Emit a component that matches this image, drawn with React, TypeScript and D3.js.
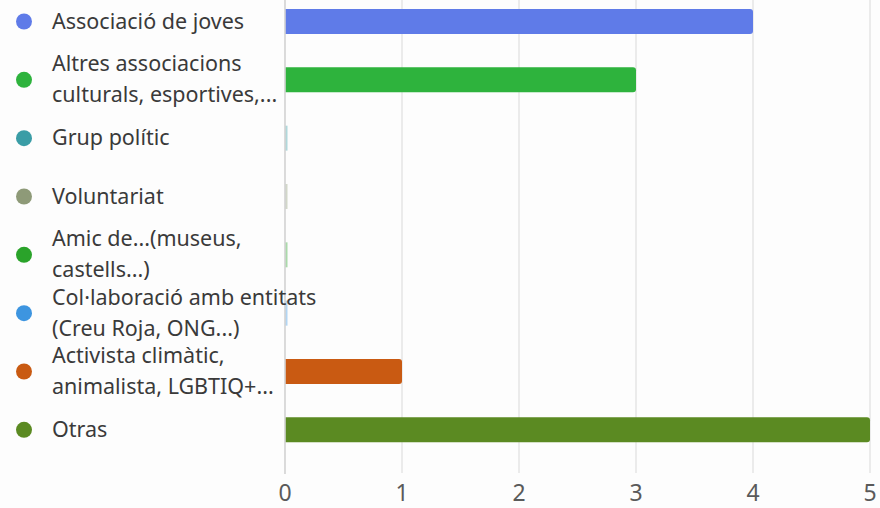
import React from "react";
import * as d3 from "d3";

const categories: string[][] = [
  ["Associació de joves"],
  ["Altres associacions", "culturals, esportives,..."],
  ["Grup polític"],
  ["Voluntariat"],
  ["Amic de...(museus,", "castells...)"],
  ["Col·laboració amb entitats", "(Creu Roja, ONG...)"],
  ["Activista climàtic,", "animalista, LGBTIQ+..."],
  ["Otras"],
];
const values: number[] = [4, 3, 0, 0, 0, 0, 1, 5];
const colors: string[] = ["#5f7be8", "#2eb33d", "#3a9da6", "#8e9a78", "#2aa32a", "#3d95e0", "#c95a12", "#5b8a22"];
const ticks: number[] = [0, 1, 2, 3, 4, 5];

const W = 880;
const H = 508;

export default function App() {
  const x = d3.scaleLinear().domain([0, 5]).range([285, 870]);
  const y = d3
    .scaleBand<number>()
    .domain(d3.range(categories.length))
    .range([-7.7, 459])
    .paddingInner(0.572)
    .paddingOuter(0.286);
  const bw = y.bandwidth();
  const font = "'Noto Sans', 'Open Sans', sans-serif";
  const lineGap = 31;

  return (
    <svg
      width={W}
      height={H}
      style={{ position: "absolute", left: 0, top: 0, background: "#fdfdfd" }}
      fontFamily={font}
    >
      {ticks.slice(1).map((t) => (
        <line key={t} x1={x(t)} x2={x(t)} y1={0} y2={473} stroke="#e0e0e0" strokeWidth={1.2} />
      ))}
      {values.map((v, i) => {
        const w = x(v) - x(0);
        const pale = d3.interpolateRgb(colors[i], "#ffffff")(0.6);
        if (v === 0) {
          return <rect key={i} x={x(0) + 0.5} y={y(i)} width={2} height={bw} fill={pale} />;
        }
        const r = 3;
        const x0 = x(0) + 0.5;
        const x1 = x0 + w - 0.5;
        const y0 = y(i) as number;
        const y1 = y0 + bw;
        const path = `M${x0},${y0}H${x1 - r}Q${x1},${y0} ${x1},${y0 + r}V${y1 - r}Q${x1},${y1} ${x1 - r},${y1}H${x0}Z`;
        return <path key={i} d={path} fill={colors[i]} />;
      })}
      <line x1={x(0)} x2={x(0)} y1={0} y2={474} stroke="#c4c4c4" strokeWidth={1.2} />
      {ticks.map((t) => (
        <text key={t} x={x(t)} y={501} textAnchor="middle" fontSize={23} fill="#5a5a5a">
          {t}
        </text>
      ))}
      {categories.map((lines, i) => {
        const yc = (y(i) as number) + bw / 2;
        const start = yc - ((lines.length - 1) * lineGap) / 2;
        return (
          <g key={i}>
            <circle cx={24} cy={yc} r={8} fill={colors[i]} />
            {lines.map((l, j) => (
              <text key={j} x={52} y={start + j * lineGap} dy="0.33em" fontSize={21.5} fill="#3a3a3a">
                {l}
              </text>
            ))}
          </g>
        );
      })}
    </svg>
  );
}
